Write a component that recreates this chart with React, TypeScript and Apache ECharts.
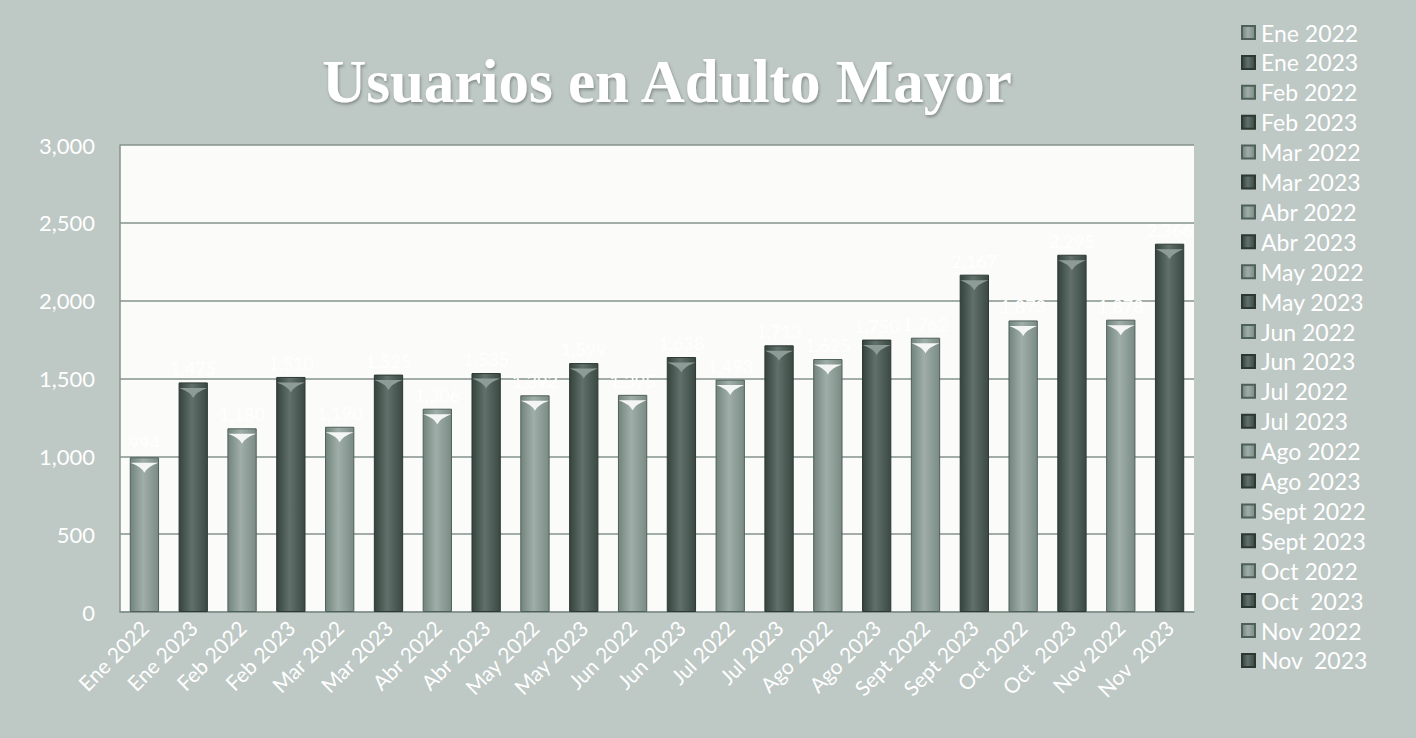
import React, { useEffect, useRef } from "react";
import * as echarts from "echarts";

const categories = [
  "Ene 2022", "Ene 2023", "Feb 2022", "Feb 2023", "Mar 2022", "Mar 2023",
  "Abr 2022", "Abr 2023", "May 2022", "May 2023", "Jun 2022", "Jun 2023",
  "Jul 2022", "Jul 2023", "Ago 2022", "Ago 2023", "Sept 2022", "Sept 2023",
  "Oct 2022", "Oct  2023", "Nov 2022", "Nov  2023",
];
const values = [
  994, 1475, 1180, 1510, 1190, 1525,
  1306, 1535, 1392, 1599, 1395, 1638,
  1493, 1713, 1625, 1750, 1762, 2167,
  1873, 2295, 1878, 2366,
];
const yTicks = [0, 500, 1000, 1500, 2000, 2500, 3000];
const titleText = "Usuarios en Adulto Mayor";

const lightFill = () =>
  new echarts.graphic.LinearGradient(0, 0, 1, 0, [
    { offset: 0, color: "#72847e" },
    { offset: 0.45, color: "#a0aea9" },
    { offset: 1, color: "#7a8b85" },
  ]);
const darkFill = () =>
  new echarts.graphic.LinearGradient(0, 0, 1, 0, [
    { offset: 0, color: "#34433e" },
    { offset: 0.45, color: "#61706b" },
    { offset: 1, color: "#3b4944" },
  ]);

export default function App() {
  const ref = useRef<HTMLDivElement>(null);
  useEffect(() => {
    if (!ref.current) return;
    const chart = echarts.init(ref.current, undefined, { renderer: "svg" });
    const isDark = (i: number) => i % 2 === 1;
    const barSeries = categories.map((name, i) => ({
      name,
      type: "bar",
      stack: "all",
      barWidth: "60%",
      data: categories.map((_, j) => (j === i ? values[i] : "-")),
      itemStyle: {
        color: isDark(i) ? darkFill() : lightFill(),
        borderColor: isDark(i) ? "#2c3834" : "#4f5f59",
        borderWidth: 1,
      },
      label: {
        show: true,
        position: "top",
        color: "#ffffff",
        fontFamily: "Lato",
        fontSize: 18,
        formatter: (p: any) => Number(p.value).toLocaleString("en-US"),
      },
      z: 2,
    }));
    const bevel = {
      type: "pictorialBar",
      name: "bevel",
      symbol: "path://M0,0 L20,0 Q12,4 10,10 Q8,4 0,0 Z",
      symbolSize: [28, 10],
      symbolPosition: "end",
      symbolOffset: [0, "55%"],
      silent: true,
      z: 5,
      data: values.map((v, i) => ({
        value: v,
        itemStyle: { color: isDark(i) ? "#8e9b96" : "#f4f6f5" },
      })),
    };
    chart.setOption({
      animation: false,
      backgroundColor: "#bec8c5",
      title: {
        text: titleText,
        left: 662,
        top: 46,
        textAlign: "center",
        textStyle: {
          color: "#ffffff",
          fontFamily: "Liberation Serif",
          fontWeight: "bold",
          fontSize: 61,
          textShadowColor: "rgba(90,100,96,0.6)",
          textShadowBlur: 3,
          textShadowOffsetX: 1,
          textShadowOffsetY: 2,
        },
      },
      legend: {
        orient: "vertical",
        left: 1236,
        top: 16,
        itemWidth: 13,
        itemHeight: 13,
        itemGap: 6.9,
        icon: "rect",
        data: categories,
        selectedMode: false,
        textStyle: {
          color: "#ffffff",
          fontFamily: "Lato",
          fontSize: 23,
          lineHeight: 23,
          padding: [0, 0, 0, 1],
        },
      },
      grid: {
        left: 120,
        right: 222,
        top: 145,
        bottom: 126,
        show: true,
        backgroundColor: "#fbfbfa",
        borderWidth: 0,
      },
      xAxis: {
        type: "category",
        data: categories,
        axisLine: { show: true, lineStyle: { color: "#84938e", width: 1.5 } },
        axisTick: { show: false },
        axisLabel: {
          rotate: 45,
          interval: 0,
          color: "#ffffff",
          fontFamily: "Lato",
          fontSize: 21,
          margin: 12,
        },
      },
      yAxis: {
        type: "value",
        min: yTicks[0],
        max: yTicks[yTicks.length - 1],
        interval: 500,
        axisLine: { show: true, lineStyle: { color: "#84938e", width: 1.5 } },
        axisTick: { show: false },
        splitLine: { show: true, lineStyle: { color: "#84938e", width: 1.5 } },
        axisLabel: {
          color: "#ffffff",
          fontFamily: "Lato",
          fontSize: 22,
          margin: 25,
          formatter: (v: number) => v.toLocaleString("en-US"),
        },
      },
      series: [...barSeries, bevel],
    });
    return () => chart.dispose();
  }, []);
  return (
    <div
      ref={ref}
      style={{ position: "fixed", left: 0, top: 0, width: 1416, height: 738 }}
    />
  );
}
